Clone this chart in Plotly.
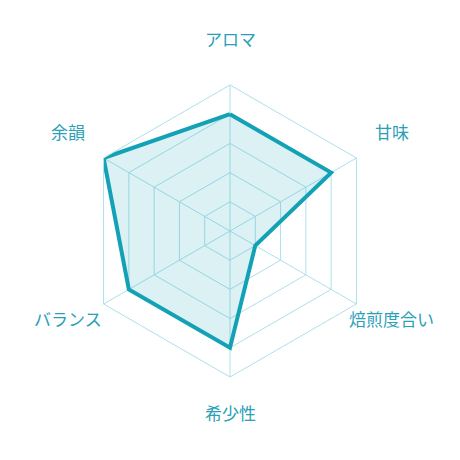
import math
import plotly.graph_objects as go

categories = ["アロマ", "甘味", "焙煎度合い", "希少性", "バランス", "余韻"]
values = [4, 4, 1, 4, 4, 5]

line_color = "#13a1b6"
grid_color = "#ade0ea"
label_color = "#2aa0b8"

# page has an 8px body margin, so keep the figure at 444 and shift things a bit
W = 444
side = 292
ml, mt = 76, 77

fig = go.Figure()
fig.add_trace(go.Scatterpolar(
    r=values + values[:1],
    theta=categories + categories[:1],
    mode="lines",
    fill="toself",
    fillcolor="rgba(19,161,182,0.15)",
    line=dict(color=line_color, width=4),
    hoverinfo="skip",
))

# category labels placed a bit further out than plotly's tick labels
label_r = 187
for i, name in enumerate(categories):
    ang = math.radians(360 / len(categories) * i)
    fig.add_annotation(
        x=0.5 + label_r * math.sin(ang) / side,
        y=0.5 + (label_r * math.cos(ang) + 6) / side,
        xref="paper", yref="paper",
        text=name, showarrow=False,
        xanchor="center", yanchor="middle",
        font=dict(size=17, color=label_color),
    )

fig.update_layout(
    width=W,
    height=W,
    margin=dict(l=ml, r=W - ml - side, t=mt, b=W - mt - side),
    paper_bgcolor="white",
    showlegend=False,
    font=dict(family="Noto Sans CJK JP", size=17, color=label_color),
    polar=dict(
        bgcolor="white",
        gridshape="linear",
        domain=dict(x=[0, 1], y=[0, 1]),
        radialaxis=dict(
            range=[0, 5],
            dtick=1,
            showticklabels=False,
            ticks="",
            showline=False,
            gridcolor=grid_color,
            gridwidth=1,
        ),
        angularaxis=dict(
            direction="clockwise",
            rotation=90,
            linecolor=grid_color,
            gridcolor=grid_color,
            showticklabels=False,
            ticks="",
        ),
    ),
)

fig.write_html("out.html")
